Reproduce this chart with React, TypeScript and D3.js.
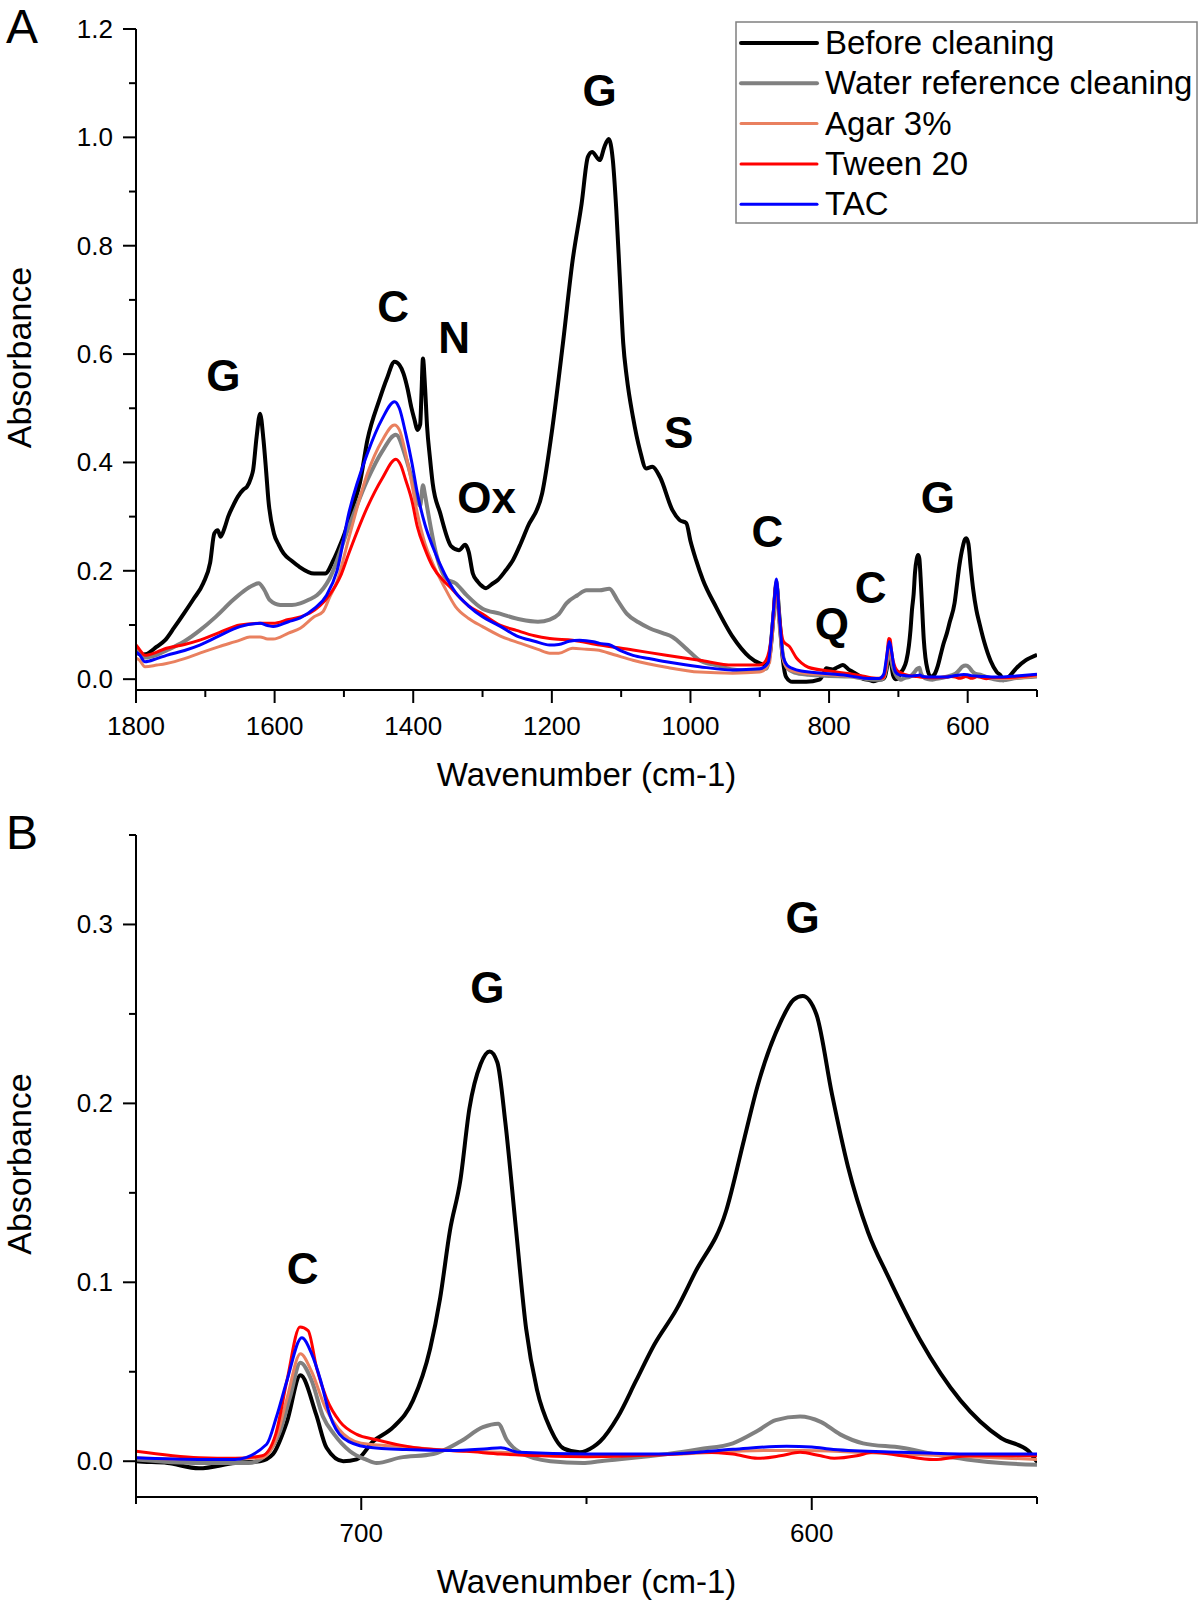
import * as d3 from 'd3';

// FTIR spectra, [wavenumber (cm-1), absorbance]
const beforeCleaning: [number, number][] = [
  [1800, 0.05], [1793, 0.045], [1786, 0.046], [1770, 0.06], [1758, 0.072], [1745, 0.095], [1731, 0.121],
  [1717, 0.148], [1703, 0.177], [1693, 0.215], [1687, 0.269], [1682, 0.275], [1678, 0.263], [1672, 0.28],
  [1667, 0.3], [1660, 0.32], [1653, 0.337], [1645, 0.35], [1640, 0.355], [1634, 0.372], [1631, 0.386],
  [1626, 0.447], [1621, 0.49], [1616, 0.441], [1612, 0.38], [1609, 0.331], [1601, 0.269], [1594, 0.248],
  [1587, 0.232], [1575, 0.218], [1565, 0.208], [1543, 0.195], [1527, 0.195], [1515, 0.22], [1507, 0.243],
  [1499, 0.269], [1488, 0.315], [1477, 0.362], [1466, 0.442], [1449, 0.515], [1438, 0.555], [1427, 0.586],
  [1420, 0.58], [1414, 0.564], [1408, 0.535], [1403, 0.503], [1398, 0.478], [1394, 0.46], [1390, 0.47],
  [1388, 0.53], [1386, 0.592], [1383, 0.54], [1380, 0.466], [1376, 0.41], [1372, 0.362], [1361, 0.306],
  [1345, 0.245], [1334, 0.238], [1325, 0.248], [1320, 0.235], [1314, 0.195], [1307, 0.18], [1300, 0.171],
  [1295, 0.168], [1287, 0.175], [1278, 0.183], [1267, 0.2], [1256, 0.22], [1245, 0.25], [1235, 0.281],
  [1214, 0.343], [1199, 0.466], [1184, 0.62], [1170, 0.773], [1157, 0.878], [1148, 0.964], [1142, 0.973],
  [1131, 0.958], [1124, 0.983], [1118, 0.997], [1112, 0.958], [1107, 0.866], [1102, 0.743], [1097, 0.62],
  [1092, 0.558], [1083, 0.484], [1073, 0.423], [1064, 0.389], [1055, 0.392], [1044, 0.373], [1026, 0.312],
  [1016, 0.294], [1006, 0.288], [1000, 0.255], [992, 0.22], [982, 0.183], [963, 0.133], [939, 0.078],
  [915, 0.041], [900, 0.029], [891, 0.026], [885, 0.05], [880, 0.12], [876, 0.175], [872, 0.12], [867, 0.04],
  [862, 0.004], [853, -0.005], [833, -0.005], [814, -0.001], [808, 0.01], [804, 0.02], [795, 0.018],
  [788, 0.022], [780, 0.026], [772, 0.018], [765, 0.013], [755, 0.005], [750, 0], [743, -0.001],
  [736, -0.004], [728, -0.001], [722.5, 0], [719.6, 0.004], [716.5, 0.022], [713.5, 0.048], [710, 0.026],
  [707.7, 0.0075], [704, 0], [701, 0.001], [697.4, 0.011], [692.9, 0.019], [688.5, 0.034], [684.7, 0.063],
  [682.5, 0.091], [680.3, 0.129], [678, 0.157], [676, 0.197], [673.5, 0.222], [671.5, 0.229], [669.8, 0.223],
  [668, 0.189], [665.7, 0.131], [663.4, 0.074], [661, 0.04], [658, 0.018], [655, 0.007], [651.5, 0.005],
  [648.5, 0.008], [647, 0.011], [643, 0.025], [639, 0.045], [635, 0.065], [630, 0.085], [626, 0.105],
  [619, 0.14], [615, 0.18], [612, 0.21], [607, 0.245], [604, 0.258], [602, 0.26], [599, 0.25],
  [595.5, 0.205], [592, 0.165], [587.5, 0.128], [583, 0.103], [576, 0.068], [567, 0.034], [558, 0.013],
  [552, 0.006], [549, -0.002], [545, 0], [540, 0.005], [530, 0.02], [516, 0.035], [500, 0.045],
];

const waterReference: [number, number][] = [
  [1800, 0.058], [1795, 0.05], [1787, 0.04], [1770, 0.045], [1756, 0.053], [1730, 0.07], [1708, 0.09],
  [1685, 0.115], [1660, 0.146], [1645, 0.162], [1636, 0.17], [1623, 0.177], [1615, 0.165], [1607, 0.146],
  [1592, 0.137], [1575, 0.137], [1563, 0.14], [1550, 0.147], [1539, 0.155], [1521, 0.185], [1493, 0.281],
  [1466, 0.368], [1445, 0.42], [1425, 0.451], [1411, 0.41], [1400, 0.36], [1394, 0.33], [1390, 0.32],
  [1386, 0.358], [1383, 0.34], [1380, 0.318], [1367, 0.232], [1352, 0.185], [1339, 0.177], [1323, 0.155],
  [1300, 0.13], [1275, 0.121], [1245, 0.11], [1220, 0.106], [1203, 0.11], [1190, 0.12], [1179, 0.14],
  [1163, 0.155], [1150, 0.164], [1131, 0.164], [1117, 0.167], [1105, 0.145], [1092, 0.121], [1075, 0.105],
  [1059, 0.094], [1040, 0.085], [1026, 0.078], [1005, 0.055], [987, 0.035], [960, 0.025], [939, 0.018],
  [910, 0.015], [890, 0.02], [880, 0.12], [876, 0.18], [872, 0.11], [866, 0.04], [860, 0.02], [850, 0.012],
  [830, 0.008], [800, 0.006], [770, 0.005], [750, 0.001], [736, -0.001], [725, -0.001], [721, 0.004],
  [718, 0.017], [715.8, 0.036], [713.5, 0.055], [711, 0.045], [708.5, 0.025], [706, 0.015], [702.5, 0.0056],
  [699, 0.001], [696.6, -0.001], [691.4, 0.002], [684, 0.004], [678, 0.011], [673, 0.019], [669.6, 0.021],
  [667.7, 0.012], [664.8, 0.005], [658, 0], [650.8, -0.001], [647, 0], [632, 0.004], [625, 0.0067],
  [617.5, 0.01], [612, 0.017], [608, 0.023], [602.6, 0.025], [598, 0.022], [593.7, 0.015], [588.6, 0.01],
  [580, 0.0075], [573, 0.004], [565.6, 0.001], [558, -0.001], [550, -0.002], [530, 0.002], [500, 0.005],
];

const agar3: [number, number][] = [
  [1800, 0.039], [1795, 0.035], [1787, 0.023], [1770, 0.026], [1756, 0.029], [1730, 0.038], [1708, 0.048],
  [1680, 0.06], [1650, 0.072], [1636, 0.078], [1621, 0.078], [1610, 0.074], [1602, 0.074], [1580, 0.085],
  [1563, 0.094], [1543, 0.115], [1530, 0.125], [1521, 0.15], [1510, 0.18], [1493, 0.26], [1466, 0.38],
  [1445, 0.44], [1427, 0.469], [1420, 0.46], [1411, 0.417], [1402, 0.36], [1394, 0.306], [1383, 0.25],
  [1372, 0.214], [1355, 0.17], [1339, 0.134], [1320, 0.112], [1300, 0.097], [1275, 0.08], [1245, 0.066],
  [1220, 0.055], [1203, 0.048], [1190, 0.048], [1170, 0.057], [1150, 0.055], [1135, 0.054], [1110, 0.045],
  [1083, 0.035], [1035, 0.022], [987, 0.013], [939, 0.011], [900, 0.013], [886, 0.03], [880, 0.12],
  [876, 0.175], [872, 0.11], [866, 0.035], [858, 0.018], [840, 0.012], [800, 0.008], [760, 0.004],
  [750, 0.002], [736, 0.001], [722, 0.002], [719, 0.012], [716.5, 0.035], [713.5, 0.06], [711, 0.05],
  [708, 0.03], [705, 0.018], [700, 0.01], [690, 0.008], [680, 0.006], [669, 0.005], [650, 0.003],
  [630, 0.004], [610, 0.006], [602, 0.006], [590, 0.005], [570, 0.003], [550, 0.001], [520, 0.003],
  [500, 0.006],
];

const tween20: [number, number][] = [
  [1800, 0.063], [1795, 0.055], [1787, 0.044], [1770, 0.05], [1756, 0.057], [1730, 0.064], [1708, 0.072],
  [1680, 0.086], [1650, 0.1], [1621, 0.103], [1602, 0.103], [1580, 0.11], [1563, 0.115], [1549, 0.122],
  [1535, 0.135], [1521, 0.155], [1505, 0.19], [1493, 0.232], [1466, 0.318], [1445, 0.37], [1425, 0.406],
  [1418, 0.395], [1411, 0.368], [1402, 0.33], [1394, 0.281], [1383, 0.24], [1372, 0.208], [1355, 0.18],
  [1347, 0.17], [1339, 0.159], [1320, 0.135], [1300, 0.12], [1275, 0.1], [1251, 0.09], [1225, 0.08],
  [1203, 0.075], [1170, 0.072], [1131, 0.063], [1083, 0.054], [1035, 0.044], [987, 0.035], [939, 0.026],
  [900, 0.026], [891, 0.035], [883, 0.08], [876, 0.18], [872, 0.12], [866, 0.07], [857, 0.06], [847, 0.039],
  [840, 0.03], [830, 0.022], [800, 0.015], [770, 0.01], [750, 0.0056], [736, 0.002], [728, 0.0016],
  [722, 0.003], [719, 0.015], [716.5, 0.045], [713.6, 0.075], [711.8, 0.073], [709.9, 0.052], [707.7, 0.035],
  [704.7, 0.022], [701, 0.015], [696.6, 0.012], [691.4, 0.009], [684, 0.0065], [676.6, 0.0055], [669, 0.004],
  [660, 0.003], [650, 0.0025], [640, 0.003], [630, 0.004], [624, 0.005], [617.5, 0.004], [612, 0.0016],
  [607, 0.003], [602.6, 0.005], [598, 0.003], [595, 0.0016], [590, 0.003], [586.4, 0.005], [580, 0.003],
  [573, 0.0009], [565, 0.003], [550, 0.003], [530, 0.004], [500, 0.008],
];

const tac: [number, number][] = [
  [1800, 0.05], [1795, 0.045], [1787, 0.032], [1770, 0.038], [1756, 0.044], [1730, 0.053], [1708, 0.063],
  [1680, 0.08], [1650, 0.097], [1621, 0.103], [1610, 0.099], [1602, 0.097], [1580, 0.106], [1563, 0.113],
  [1543, 0.13], [1525, 0.155], [1510, 0.2], [1493, 0.306], [1466, 0.417], [1445, 0.48], [1427, 0.512],
  [1420, 0.5], [1411, 0.454], [1402, 0.4], [1394, 0.343], [1383, 0.285], [1372, 0.245], [1355, 0.195],
  [1339, 0.16], [1320, 0.135], [1300, 0.115], [1275, 0.098], [1251, 0.08], [1225, 0.07], [1203, 0.063],
  [1190, 0.064], [1175, 0.07], [1160, 0.072], [1140, 0.069], [1131, 0.066], [1118, 0.064], [1100, 0.052],
  [1083, 0.044], [1060, 0.038], [1035, 0.032], [1010, 0.027], [987, 0.023], [939, 0.017], [900, 0.019],
  [888, 0.03], [880, 0.13], [876, 0.185], [872, 0.12], [866, 0.04], [860, 0.025], [853, 0.02], [840, 0.015],
  [800, 0.01], [770, 0.006], [750, 0.0019], [736, 0.001], [728, 0.001], [721, 0.0095], [718.8, 0.025],
  [716.5, 0.045], [713.2, 0.069], [711, 0.06], [709, 0.045], [707, 0.026], [704, 0.013], [698.8, 0.008],
  [690, 0.0065], [680, 0.006], [672, 0.007], [669, 0.0075], [665, 0.005], [650, 0.004], [632, 0.004],
  [617.5, 0.0067], [605.6, 0.0084], [600, 0.008], [595.2, 0.0065], [580, 0.005], [565, 0.004], [550, 0.004],
  [530, 0.006], [500, 0.009],
];

const seriesNames = ['Before cleaning', 'Water reference cleaning', 'Agar 3%', 'Tween 20', 'TAC'];
const seriesData = [beforeCleaning, waterReference, agar3, tween20, tac];
const seriesColors = ['#000000', '#808080', '#e9805f', '#ff0000', '#0000ff'];

const xTicksA = [1800, 1600, 1400, 1200, 1000, 800, 600];
const xMinorA = [1700, 1500, 1300, 1100, 900, 700, 500];
const yTicksA = [0, 0.2, 0.4, 0.6, 0.8, 1.0, 1.2];
const yMinorA = [0.1, 0.3, 0.5, 0.7, 0.9, 1.1];

const xTicksB = [700, 600];
const xMinorB = [750, 650, 550];
const yTicksB = [0, 0.1, 0.2, 0.3];
const yMinorB = [0.05, 0.15, 0.25, 0.35];

const bandLabelsA = [
  { text: 'G', wn: 1674, a: 0.561 },
  { text: 'C', wn: 1429, a: 0.689 },
  { text: 'N', wn: 1341, a: 0.631 },
  { text: 'Ox', wn: 1294, a: 0.336 },
  { text: 'G', wn: 1131, a: 1.087 },
  { text: 'S', wn: 1017, a: 0.456 },
  { text: 'C', wn: 889, a: 0.273 },
  { text: 'Q', wn: 796, a: 0.103 },
  { text: 'C', wn: 740, a: 0.17 },
  { text: 'G', wn: 643, a: 0.336 },
];

const bandLabelsB = [
  { text: 'C', wn: 713, a: 0.108 },
  { text: 'G', wn: 672, a: 0.265 },
  { text: 'G', wn: 602, a: 0.304 },
];

const FONT = '"Liberation Sans", Arial, Helvetica, sans-serif';
const left = 136;
const right = 1037;

function Panel({ id, letter, top, bottom, xDomain, yDomain, xTicks, xMinor, yTicks, yMinor, yFormat, bands, legend }) {
  const x = d3.scaleLinear().domain(xDomain).range([left, right]);
  const y = d3.scaleLinear().domain(yDomain).range([bottom, top]);
  const line = d3.line<[number, number]>()
    .x(d => x(d[0]))
    .y(d => y(d[1]))
    .curve(d3.curveMonotoneX);
  const lo = Math.min(...xDomain) - 10;
  const hi = Math.max(...xDomain) + 10;
  const widths = [4, 4, 3, 3, 3];

  return (
    <g>
      <defs>
        <clipPath id={`clip-${id}`}>
          <rect x={left} y={top - 5} width={right - left} height={bottom - top + 5} />
        </clipPath>
      </defs>

      <text x={6} y={top + 14} fontFamily={FONT} fontSize={48}>{letter}</text>

      <g clipPath={`url(#clip-${id})`}>
        {seriesData.map((s, i) => (
          <path
            key={i}
            d={line(s.filter(d => d[0] >= lo && d[0] <= hi)) || ''}
            fill="none"
            stroke={seriesColors[i]}
            strokeWidth={widths[i]}
            strokeLinejoin="round"
          />
        ))}
      </g>

      {/* y axis */}
      <line x1={left} x2={left} y1={top} y2={bottom} stroke="#000" strokeWidth={2} />
      {yTicks.map(t => (
        <g key={`yt${t}`}>
          <line x1={left - 13} x2={left} y1={y(t)} y2={y(t)} stroke="#000" strokeWidth={2} />
          <text x={113} y={y(t) + 9} textAnchor="end" fontFamily={FONT} fontSize={26}>{yFormat(t)}</text>
        </g>
      ))}
      {yMinor.map(t => (
        <line key={`ym${t}`} x1={left - 7} x2={left} y1={y(t)} y2={y(t)} stroke="#000" strokeWidth={2} />
      ))}

      {/* x axis */}
      <line x1={left} x2={right} y1={bottom} y2={bottom} stroke="#000" strokeWidth={2} />
      {xTicks.map(t => (
        <g key={`xt${t}`}>
          <line x1={x(t)} x2={x(t)} y1={bottom} y2={bottom + 13} stroke="#000" strokeWidth={2} />
          <text x={x(t)} y={bottom + 45} textAnchor="middle" fontFamily={FONT} fontSize={26}>{t}</text>
        </g>
      ))}
      {xMinor.map(t => (
        <line key={`xm${t}`} x1={x(t)} x2={x(t)} y1={bottom} y2={bottom + 7} stroke="#000" strokeWidth={2} />
      ))}

      <text x={(left + right) / 2} y={bottom + 96} textAnchor="middle" fontFamily={FONT} fontSize={33}>
        Wavenumber (cm-1)
      </text>
      <text
        transform={`translate(31,${(top + bottom) / 2 - 2}) rotate(-90)`}
        textAnchor="middle"
        fontFamily={FONT}
        fontSize={34}
      >
        Absorbance
      </text>

      {bands.map((b, i) => (
        <text
          key={`b${i}`}
          x={x(b.wn)}
          y={y(b.a) + 16}
          textAnchor="middle"
          fontFamily={FONT}
          fontWeight="bold"
          fontSize={44}
        >
          {b.text}
        </text>
      ))}

      {legend && (
        <g>
          <rect x={736} y={22} width={461} height={201} fill="#fff" stroke="#808080" strokeWidth={1.5} />
          {seriesNames.map((name, i) => {
            const ly = 43 + i * 40.3;
            return (
              <g key={name}>
                <line x1={741} x2={817} y1={ly} y2={ly} stroke={seriesColors[i]} strokeWidth={i < 2 ? 4 : 3} strokeLinecap="round" />
                <text x={825} y={ly + 11} fontFamily={FONT} fontSize={33}>{name}</text>
              </g>
            );
          })}
        </g>
      )}
    </g>
  );
}

export default function App() {
  return (
    <div>
      <style>{'body{margin:0;background:#fff}'}</style>
      <svg width={1200} height={1601} style={{ display: 'block', background: '#fff' }}>
        <Panel
          id="a"
          letter="A"
          top={29}
          bottom={690}
          xDomain={[1800, 500]}
          yDomain={[-0.02, 1.2]}
          xTicks={xTicksA}
          xMinor={xMinorA}
          yTicks={yTicksA}
          yMinor={yMinorA}
          yFormat={d3.format('.1f')}
          bands={bandLabelsA}
          legend
        />
        <Panel
          id="b"
          letter="B"
          top={835}
          bottom={1497}
          xDomain={[750, 550]}
          yDomain={[-0.02, 0.35]}
          xTicks={xTicksB}
          xMinor={xMinorB}
          yTicks={yTicksB}
          yMinor={yMinorB}
          yFormat={d3.format('.1f')}
          bands={bandLabelsB}
          legend={false}
        />
      </svg>
    </div>
  );
}
